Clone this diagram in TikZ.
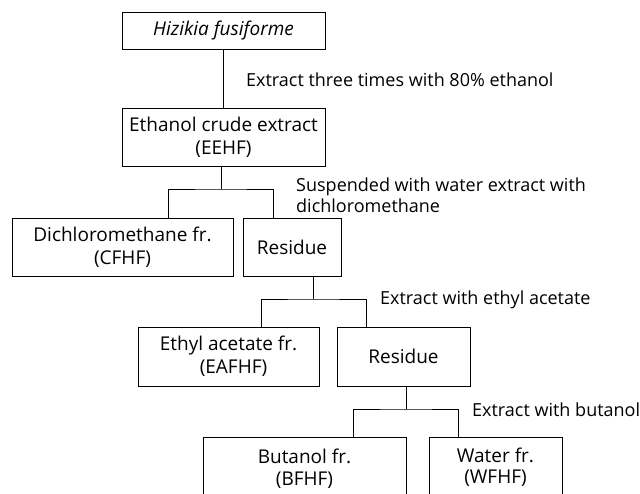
\documentclass[tikz,border=0pt]{standalone}
\usepackage{fontspec}
\setmainfont{Open Sans}
\begin{document}
\begin{tikzpicture}[x=1pt,y=-1pt,
  box/.style={draw, line width=1pt, inner sep=0pt, align=center,
    font=\fontsize{19}{23}\selectfont},
  lbl/.style={anchor=west, inner sep=0pt, align=left,
    font=\fontsize{18}{20.5}\selectfont},
  conn/.style={line width=1pt}]
\useasboundingbox (0,0) rectangle (640,493);
\node[box, minimum width=203pt, minimum height=37pt] (h) at (223.5,30.5) {\textit{Hizikia fusiforme}};
\node[box, minimum width=203pt, minimum height=58pt] (e) at (223.5,137) {Ethanol crude extract\\(EEHF)};
\node[box, minimum width=221pt, minimum height=58pt] (c) at (122.5,247) {Dichloromethane fr.\\(CFHF)};
\node[box, minimum width=98pt, minimum height=58pt] (r1) at (292,247) {Residue};
\node[box, minimum width=181pt, minimum height=59pt] (ea) at (228.5,356.5) {Ethyl acetate fr.\\\hspace*{10pt}(EAFHF)};
\node[box, minimum width=133pt, minimum height=59pt] (r2) at (403.5,356.5) {Residue};
\node[box, minimum width=203pt, minimum height=90pt] (b) at (304.5,482) {};
\node[box, minimum width=133pt, minimum height=90pt] (w) at (495.5,482) {};
\node[inner sep=0pt, align=center, font=\fontsize{19}{22}\selectfont] (bt) at (304.5,469) {Butanol fr.\\(BFHF)};
\node[inner sep=0pt, align=center, font=\fontsize{19}{21}\selectfont] (wt) at (495.5,467) {Water fr.\\(WFHF)};
% connectors
\draw[conn] (h.south) -- (e.north);
\coordinate (j1) at (221,189);
\coordinate (c1) at (168,218);
\coordinate (c2) at (273,218);
\draw[conn] (e.south -| j1) -- (j1);
\draw[conn] (c1) |- (j1) -| (c2);
\coordinate (j2) at (313,299);
\coordinate (c3) at (261,327);
\coordinate (c4) at (366,327);
\draw[conn] (r1.south -| j2) -- (j2);
\draw[conn] (c3) |- (j2) -| (c4);
\coordinate (j3) at (406,409);
\coordinate (c5) at (353,437);
\coordinate (c6) at (458,437);
\draw[conn] (r2.south -| j3) -- (j3);
\draw[conn] (c5) |- (j3) -| (c6);
% labels
\node[lbl] (l1) at (246,80) {Extract three times with 80\% ethanol};
\node[lbl] (l2) at (296,195) {Suspended with water extract with\\dichloromethane};
\node[lbl] (l3) at (380,300) {Extract with ethyl acetate};
\node[lbl] (l4) at (472,410) {Extract with butanol};
\end{tikzpicture}
\end{document}
